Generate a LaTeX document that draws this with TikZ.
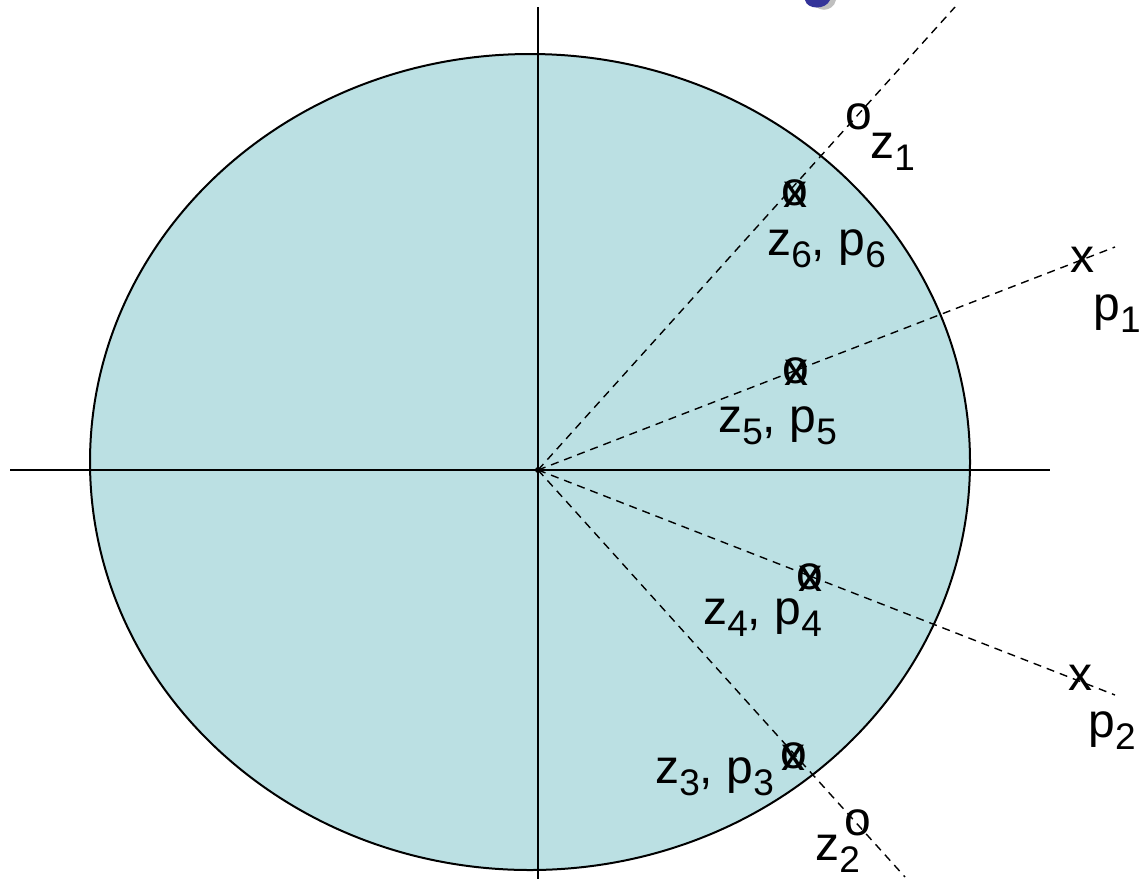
\documentclass[tikz,border=0pt]{standalone}
\usepackage{fontspec}
\setmainfont{Liberation Sans}
\definecolor{diskfill}{HTML}{BBE0E3}
\definecolor{titleblue}{HTML}{333399}
\newcommand{\sbs}[1]{\raisebox{-6pt}{\fontsize{18.5}{20}\selectfont #1}}
\begin{document}
\begin{tikzpicture}[x=0.5pt,y=-0.5pt,
  ray/.style={dashed,dash pattern=on 4pt off 3pt,line width=0.7pt},
  axis/.style={line width=1pt},
  mk/.style={inner sep=0pt,font=\fontsize{24}{28}\selectfont},
  lbl/.style={inner sep=0pt,anchor=base west,font=\fontsize{24}{28}\selectfont}]
\useasboundingbox (0,0) rectangle (1144,879);
% disk
\filldraw[fill=diskfill,draw=black,line width=1pt] (530,462) ellipse [x radius=440, y radius=408];
% cut-off title glyph
\fill[black!25] (812,0) .. controls (815,13) and (833,13) .. (836,0) -- cycle;
\fill[titleblue] (805,0) .. controls (807,10) and (826,10) .. (830,0) -- cycle;
% axes
\coordinate (O) at (538,470);
\coordinate (vt) at (538,7);
\coordinate (vb) at (538,879);
\coordinate (hl) at (10,470);
\coordinate (hr) at (1050,470);
\draw[axis] (vt) -- (vb);
\draw[axis] (hl) -- (hr);
% rays
\coordinate (e1) at (955,7);
\coordinate (e2) at (1115,247);
\coordinate (e3) at (1115,695);
\coordinate (e4) at (905,877);
\draw[ray] (O) -- (e1);
\draw[ray] (O) -- (e2);
\draw[ray] (O) -- (e3);
\draw[ray] (O) -- (e4);
\fill (O) circle (3);
% markers
\node[mk] (mz1) at (859,117) {o};
\node[mk] (mz6) at (795,193) {o};
\node[mk] (mp6) at (795,195) {x};
\node[mk] (mz5) at (796,371) {o};
\node[mk] (mp5) at (796,373) {x};
\node[mk] (mz4) at (810,577) {o};
\node[mk] (mp4) at (810,579) {x};
\node[mk] (mz3) at (794,756) {o};
\node[mk] (mp3) at (793,758) {x};
\node[mk] (mz2) at (858,823) {o};
\node[mk] (mp1) at (1082,260) {x};
\node[mk] (mp2) at (1080,678) {x};
% labels
\node[lbl] (lz1) at (870,158) {z\sbs{1}};
\node[lbl] (l6) at (767,255) {z\sbs{6}, p\sbs{6}};
\node[lbl] (l5) at (718,432) {z\sbs{5}, p\sbs{5}};
\node[lbl] (l4) at (703,624) {z\sbs{4}, p\sbs{4}};
\node[lbl] (l3) at (655,783) {z\sbs{3}, p\sbs{3}};
\node[lbl] (lz2) at (815,860) {z\sbs{2}};
\node[lbl] (lp1) at (1093,320) {p\sbs{1}};
\node[lbl] (lp2) at (1088,737) {p\sbs{2}};
\end{tikzpicture}
\end{document}
